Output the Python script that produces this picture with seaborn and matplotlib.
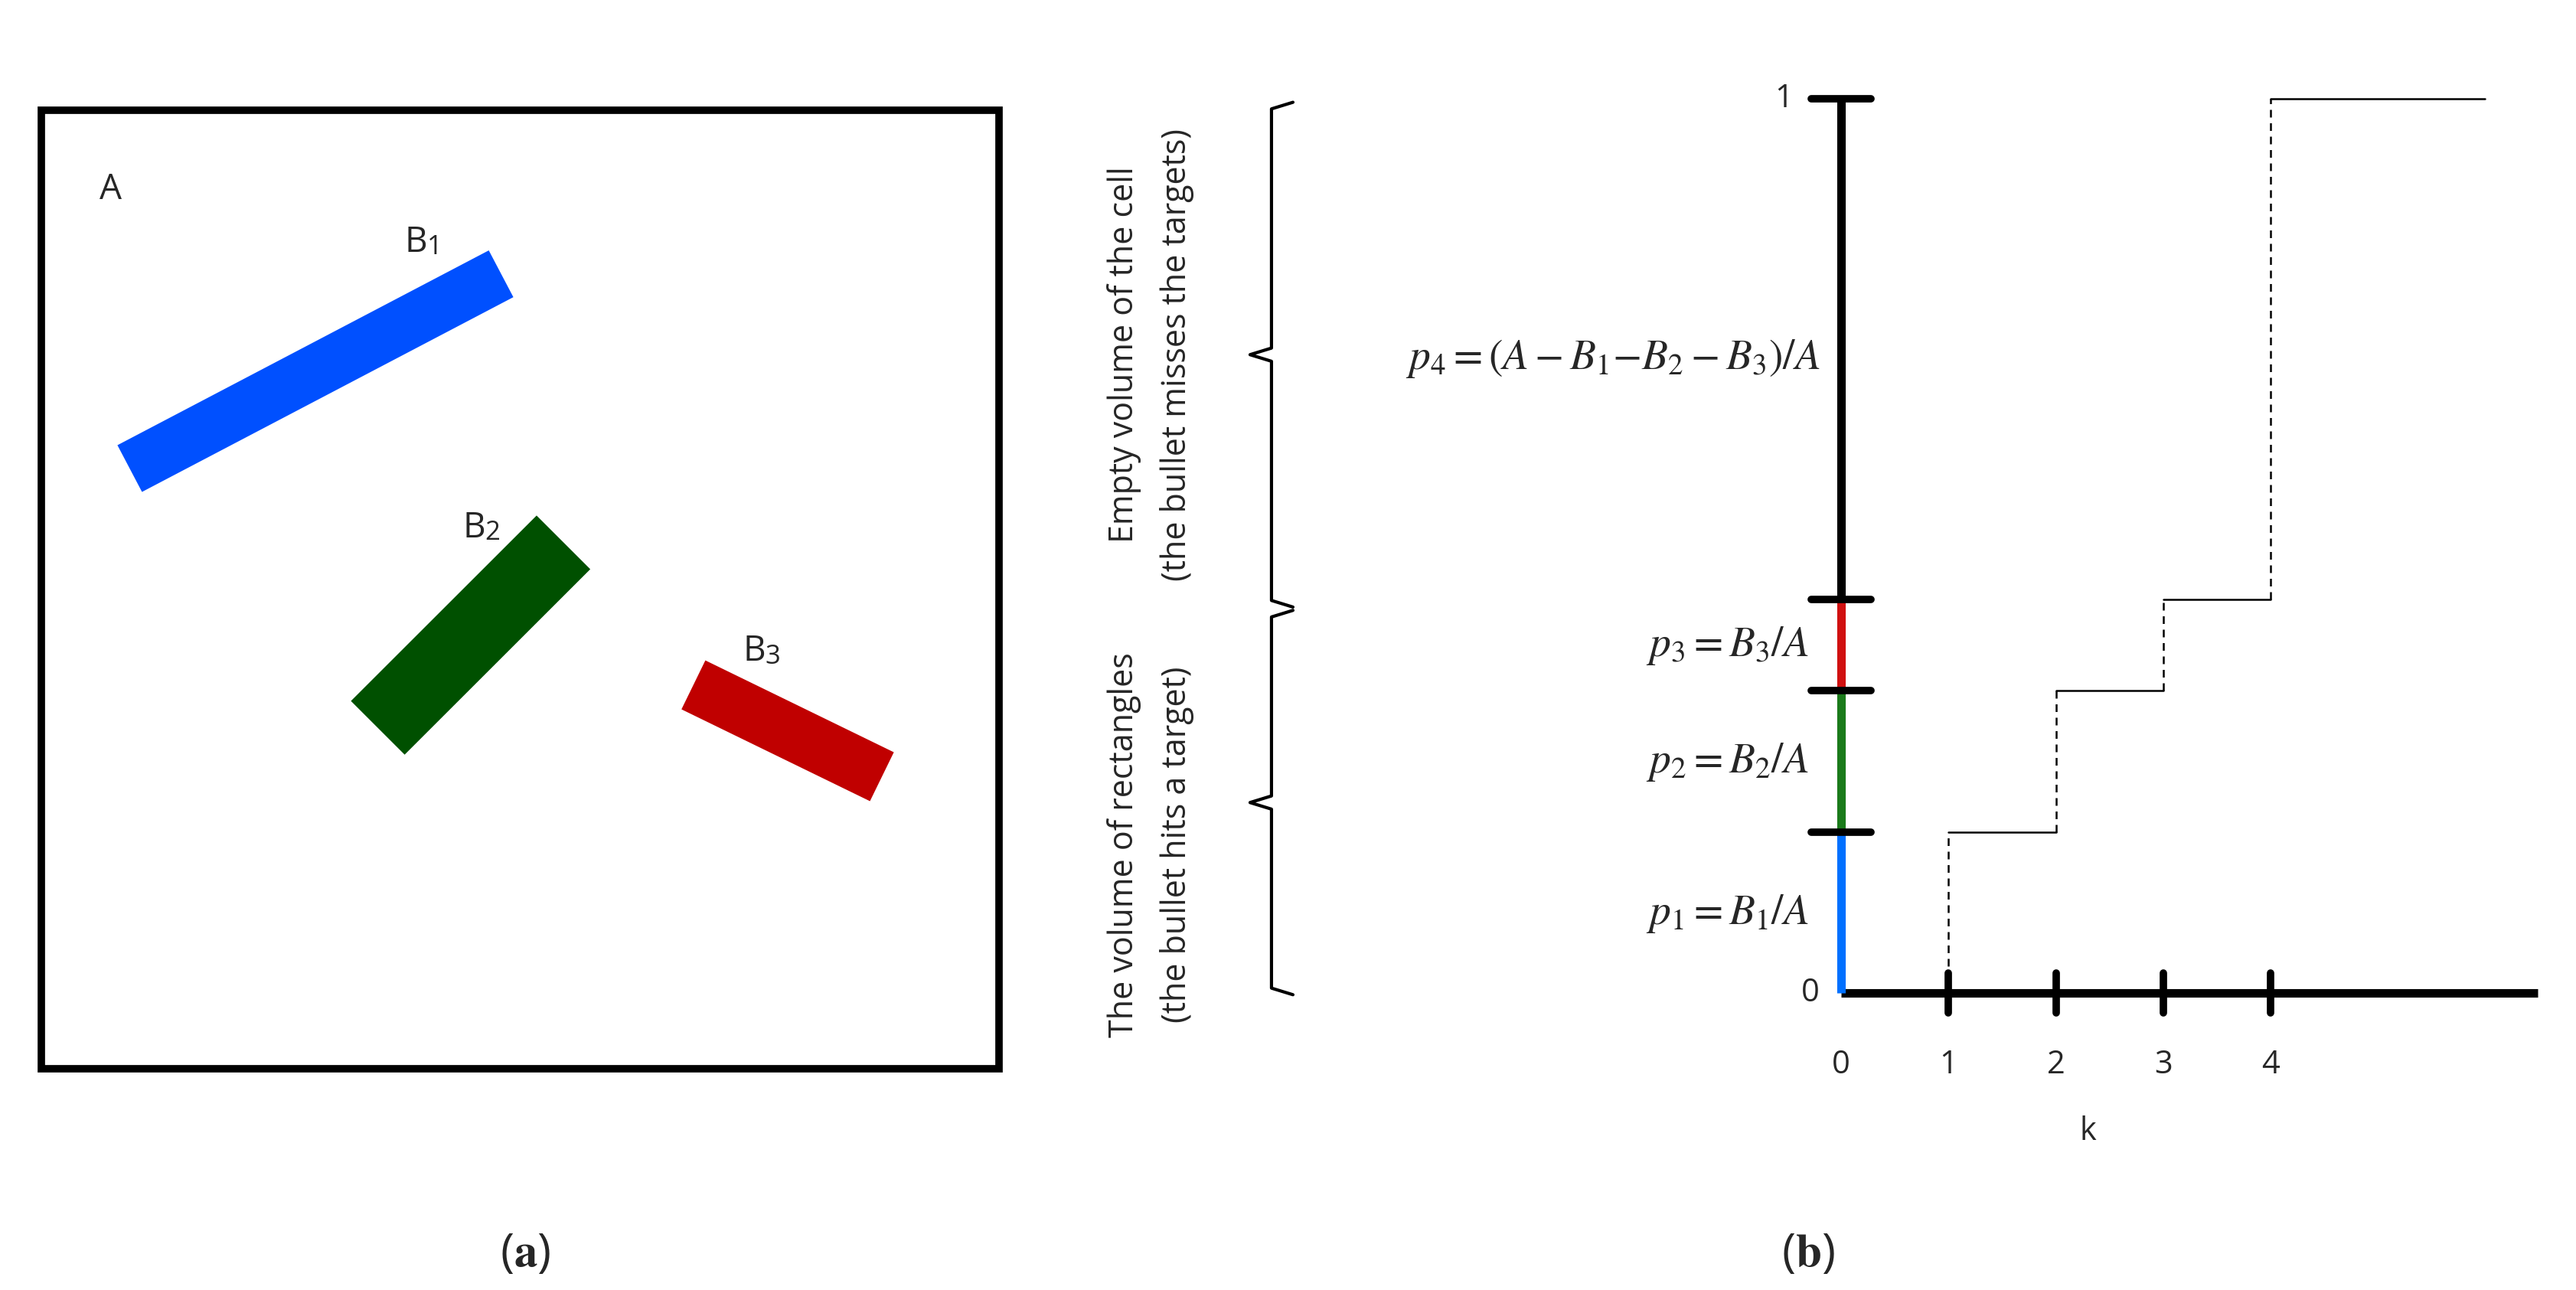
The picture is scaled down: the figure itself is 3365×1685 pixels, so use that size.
import numpy as np
import seaborn as sns
import matplotlib.pyplot as plt
from matplotlib.patches import Polygon, Rectangle
from matplotlib.lines import Line2D

sns.set_theme(style="white")
plt.rcParams['font.family'] = ['Open Sans', 'DejaVu Sans']
plt.rcParams['mathtext.fontset'] = 'stix'

# panel (a): target rectangles (centre x, centre y, length, thickness, angle deg) in picture units
rect_names = ['B1', 'B2', 'B3']
rect_colors = ['#0050ff', '#005000', '#c00000']
rect_cx = [191, 285, 477]
rect_cy = [225, 385, 443]
rect_len = [254, 159, 127]
rect_thk = [32, 46, 33]
rect_ang = [27.7, 45, -26]
label_xy = [(252, 147), (287, 320), (457, 395)]

# panel (b): cumulative probabilities
k_vals = [0, 1, 2, 3, 4]
cdf = [0.0, 0.18, 0.338, 0.44, 1.0]
seg_colors = ['#0070ff', '#1a7a1a', '#d01010', 'black']
p_labels = [r'$p_1 = B_1/A$', r'$p_2 = B_2/A$', r'$p_3 = B_3/A$',
            r'$p_4 = (A - B_1{-}B_2 - B_3)/A$']

W, H = 1560, 782
fig = plt.figure(figsize=(33.65, 16.85), dpi=100)


def fx(x):
    return x / W


def fy(y):
    return 1 - y / H


# ---- panel (a)
axa = fig.add_axes([fx(25), fy(648), fx(605) - fx(25), fy(67) - fy(648)])
axa.set_xlim(25, 605)
axa.set_ylim(648, 67)
axa.axis('off')
axa.add_patch(Rectangle((25, 67), 580, 581, fill=False, lw=7, ec='black', clip_on=False))
for i in range(3):
    a = np.deg2rad(rect_ang[i])
    u = np.array([np.cos(a), -np.sin(a)]) * rect_len[i] / 2
    v = np.array([np.sin(a), np.cos(a)]) * rect_thk[i] / 2
    c = np.array([rect_cx[i], rect_cy[i]])
    pts = [c - u - v, c + u - v, c + u + v, c - u + v]
    axa.add_patch(Polygon(pts, closed=True, color=rect_colors[i], lw=0))
    axa.text(label_xy[i][0], label_xy[i][1], 'B', fontsize=33, ha='center', va='center')
    axa.text(label_xy[i][0] + 11, label_xy[i][1] + 3, str(i + 1), fontsize=25, ha='center', va='center')
axa.text(67, 115, 'A', fontsize=33, ha='center', va='center')
fig.text(fx(318), fy(760), r'($\mathbf{a}$)', fontsize=44, ha='center', va='center')

# ---- panel (b)
x0, x1, y0, y1 = 1115, 1537, 602, 60
unit = 65.0
axb = fig.add_axes([fx(x0), fy(y0), fx(x1) - fx(x0), fy(y1) - fy(y0)])
xmax = (x1 - x0) / unit
axb.set_xlim(0, xmax)
axb.set_ylim(0, 1)
axb.axis('off')

# step function: horizontal solid, vertical dashed
steps_x = k_vals + [6.0]
for i in range(1, len(k_vals)):
    sns.lineplot(x=[steps_x[i], steps_x[i + 1]], y=[cdf[i], cdf[i]], ax=axb,
                 color='black', lw=1.8, clip_on=False)
    axb.vlines(k_vals[i], cdf[i - 1], cdf[i], colors='black', linestyles=(0, (4, 3)), lw=1.8)

# x axis
axb.plot([0, xmax], [0, 0], color='black', lw=8, clip_on=False, solid_capstyle='butt')
for k in k_vals[1:]:
    axb.plot([k, k], [-0.022, 0.022], color='black', lw=7, clip_on=False)
for k in k_vals:
    axb.text(k, -0.08, str(k), fontsize=30, ha='center', va='center')
axb.text(2.3, -0.155, 'k', fontsize=30, ha='center', va='center')

# y axis coloured segments
lev = [0.0] + cdf[1:]
for i in range(4):
    axb.plot([0, 0], [lev[i], lev[i + 1]], color=seg_colors[i], lw=8, clip_on=False,
             solid_capstyle='butt')
for v in lev[1:]:
    axb.plot([-0.28, 0.28], [v, v], color='black', lw=7, clip_on=False)
axb.text(-0.2, 0, '0', fontsize=30, ha='right', va='center')
axb.text(-0.45, 1, '1', fontsize=30, ha='right', va='center')
for i in range(4):
    yc = (lev[i] + lev[i + 1]) / 2 if i < 3 else 0.71
    xl = -0.3 if i < 3 else -0.2
    axb.text(xl, yc, p_labels[i], fontsize=40, ha='right', va='center')


# braces
def brace(xr, ytop, ybot):
    ym = (ytop + ybot) / 2
    xs = [xr + 13, xr, xr, xr - 13, xr, xr, xr + 13]
    ys = [ytop, ytop + 4, ym - 4, ym, ym + 4, ybot - 4, ybot]
    fig.add_artist(Line2D([fx(x) for x in xs], [fy(y) for y in ys], color='black', lw=3))


brace(770, 62, 368)
brace(770, 370, 603)

fig.text(fx(681), fy(215), 'Empty volume of the cell', fontsize=31, rotation=90, ha='center', va='center')
fig.text(fx(713), fy(215), '(the bullet misses the targets)', fontsize=31, rotation=90, ha='center', va='center')
fig.text(fx(681), fy(512), 'The volume of rectangles', fontsize=31, rotation=90, ha='center', va='center')
fig.text(fx(713), fy(512), '(the bullet hits a target)', fontsize=31, rotation=90, ha='center', va='center')

fig.text(fx(1095), fy(760), r'($\mathbf{b}$)', fontsize=44, ha='center', va='center')

fig.savefig('out.png', dpi=100, facecolor='white')
